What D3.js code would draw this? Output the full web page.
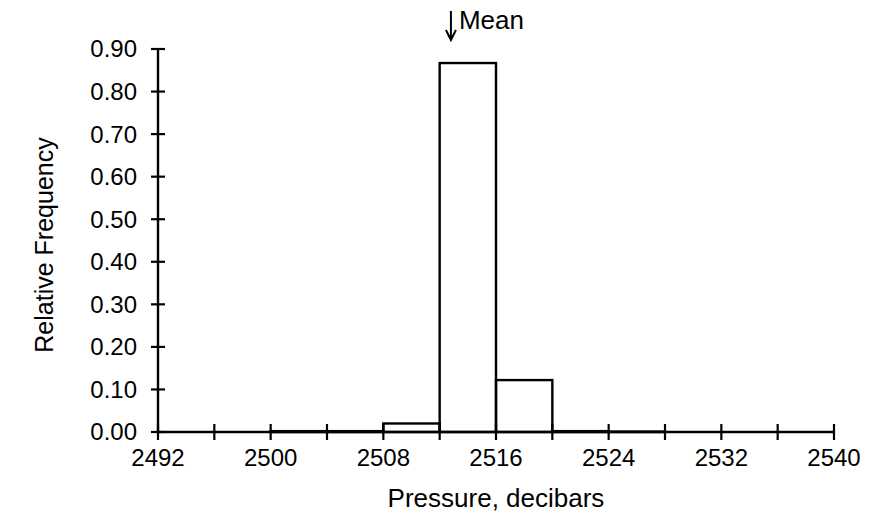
<!DOCTYPE html>
<html>
<head>
<meta charset="utf-8">
<script src="https://cdn.jsdelivr.net/npm/d3@7"></script>
<style>
    body { margin: 0; background: #fff; }
    text { font-family: "Liberation Sans", Arial, sans-serif; fill: #000; }
</style>
</head>
<body>
<svg id="chart"></svg>
<script>
// bin edges (decibars) and relative frequency per bin
const binStarts = [2492, 2496, 2500, 2504, 2508, 2512, 2516, 2520, 2524, 2528, 2532, 2536];
const binWidth = 4;
const relFreq = [0, 0, 0.002, 0.002, 0.02, 0.867, 0.122, 0.002, 0.001, 0, 0, 0];
const xTicks = [2492, 2496, 2500, 2504, 2508, 2512, 2516, 2520, 2524, 2528, 2532, 2536, 2540];
const xLabels = [2492, 2500, 2508, 2516, 2524, 2532, 2540];
const yTicks = [0, 0.1, 0.2, 0.3, 0.4, 0.5, 0.6, 0.7, 0.8, 0.9];
const meanValue = 2512.8;

const width = 883, height = 513;
const margin = {top: 49, right: 49, bottom: 81, left: 158};

const svg = d3.select("#chart")
    .attr("width", width)
    .attr("height", height);

const x = d3.scaleLinear()
    .domain([2492, 2540])
    .range([margin.left, width - margin.right]);

const y = d3.scaleLinear()
    .domain([0, 0.9])
    .range([height - margin.bottom, margin.top]);

// bars
svg.append("g")
    .selectAll("rect")
    .data(binStarts.map((s, i) => ({x0: s, x1: s + binWidth, v: relFreq[i]})).filter(d => d.v > 0))
    .join("rect")
    .attr("x", d => x(d.x0))
    .attr("y", d => y(d.v))
    .attr("width", d => x(d.x1) - x(d.x0))
    .attr("height", d => y(0) - y(d.v))
    .attr("fill", "none")
    .attr("stroke", "#000")
    .attr("stroke-width", 2.4);

// x axis, ticks cross the line
const xAxis = svg.append("g")
    .attr("transform", "translate(0," + y(0) + ")");
xAxis.append("line")
    .attr("x1", x(2492)).attr("x2", x(2540))
    .attr("stroke", "#000").attr("stroke-width", 2.4);
xAxis.selectAll(".tick")
    .data(xTicks)
    .join("line")
    .attr("x1", d => x(d)).attr("x2", d => x(d))
    .attr("y1", -8).attr("y2", 8)
    .attr("stroke", "#000").attr("stroke-width", 2.2);
xAxis.selectAll(".lab")
    .data(xLabels)
    .join("text")
    .attr("x", d => x(d))
    .attr("y", 34)
    .attr("text-anchor", "middle")
    .style("font-size", "24px")
    .text(d => d);

// y axis
const yAxis = svg.append("g")
    .attr("transform", "translate(" + x(2492) + ",0)");
yAxis.append("line")
    .attr("y1", y(0)).attr("y2", y(0.9))
    .attr("stroke", "#000").attr("stroke-width", 2.4);
yAxis.selectAll(".tick")
    .data(yTicks)
    .join("line")
    .attr("x1", -7).attr("x2", 7)
    .attr("y1", d => y(d)).attr("y2", d => y(d))
    .attr("stroke", "#000").attr("stroke-width", 2.2);
yAxis.selectAll(".lab")
    .data(yTicks)
    .join("text")
    .attr("x", -21)
    .attr("y", d => y(d))
    .attr("dy", "0.35em")
    .attr("text-anchor", "end")
    .style("font-size", "24px")
    .text(d => d.toFixed(2));

// axis titles
svg.append("text")
    .attr("x", (x(2492) + x(2540)) / 2)
    .attr("y", 507)
    .attr("text-anchor", "middle")
    .style("font-size", "26px")
    .text("Pressure, decibars");

svg.append("text")
    .attr("transform", "translate(53,245) rotate(-90)")
    .attr("text-anchor", "middle")
    .style("font-size", "25px")
    .text("Relative Frequency");

// mean marker
const mx = x(meanValue);
svg.append("line")
    .attr("x1", mx).attr("x2", mx)
    .attr("y1", 11).attr("y2", 39)
    .attr("stroke", "#000").attr("stroke-width", 2);
svg.append("path")
    .attr("d", `M${mx - 5},${30} L${mx},${40} L${mx + 5},${30}`)
    .attr("fill", "none")
    .attr("stroke", "#000")
    .attr("stroke-width", 2);
svg.append("text")
    .attr("x", mx + 8)
    .attr("y", 29)
    .style("font-size", "26px")
    .text("Mean");
</script>
</body>
</html>
